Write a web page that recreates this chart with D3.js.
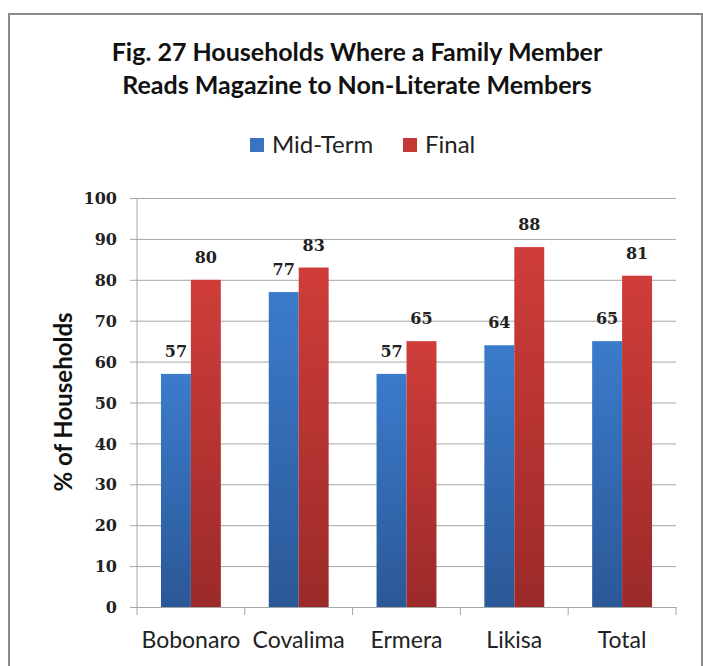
<!DOCTYPE html>
<head>
  <meta charset="utf-8">
  <script src="https://d3js.org/d3.v7.min.js"></script>
  <style>
  body,html {margin:0; background:#fff;}
  .tick text {font-family:"DejaVu Serif",serif; font-weight:bold; font-size:16px; fill:#222;}
  </style>
</head>
<body>
<script>
// data
const districts = ["Bobonaro", "Covalima", "Ermera", "Likisa", "Total"];
const seriesNames = ["Mid-Term", "Final"];
const midTerm = [57, 77, 57, 64, 65];
const finalVals = [80, 83, 65, 88, 81];
const yTicks = [0, 10, 20, 30, 40, 50, 60, 70, 80, 90, 100];

const W = 703, H = 666;
const svg = d3.select("body").append("svg").attr("width", W).attr("height", H);

// gradients for the bars
const defs = svg.append("defs");
function grad(id, top, bottom) {
  const g = defs.append("linearGradient").attr("id", id)
    .attr("x1", 0).attr("y1", 0).attr("x2", 0).attr("y2", 1);
  g.append("stop").attr("offset", "0%").attr("stop-color", top);
  g.append("stop").attr("offset", "100%").attr("stop-color", bottom);
}
grad("gBlue", "#3b7bcb", "#2b5897");
grad("gRed", "#cf3d3a", "#9b2a29");
const fills = ["url(#gBlue)", "url(#gRed)"];
const swatch = ["#3a74c0", "#c63836"];

// frame
svg.append("path").attr("d", "M9,680 V14 H702 V680")
  .attr("fill", "none").attr("stroke", "#8a8a8a").attr("stroke-width", 2);

// title
const title = svg.append("text").attr("text-anchor", "middle")
  .style("font-family", "Lato, sans-serif").style("font-weight", "bold")
  .style("font-size", "25px").attr("fill", "#111");
title.append("tspan").attr("x", 357).attr("y", 61).text("Fig. 27 Households Where a Family Member");
title.append("tspan").attr("x", 357).attr("y", 94).text("Reads Magazine to Non-Literate Members");

// legend
const legend = svg.append("g").style("font-family", "Lato, sans-serif").style("font-size", "24px");
const legX = [250, 403];
seriesNames.forEach((s, i) => {
  legend.append("rect").attr("x", legX[i]).attr("y", 138).attr("width", 14).attr("height", 14)
    .attr("fill", swatch[i]);
  legend.append("text").attr("x", legX[i] + 22).attr("y", 153).attr("fill", "#222").text(s);
});

// scales
const x = d3.scaleBand().domain(districts).range([137, 676]);
const xs = d3.scaleBand().domain(seriesNames).range([0, x.bandwidth()]).paddingOuter(0.8).paddingInner(0);
const y = d3.scaleLinear().domain([0, 100]).range([607, 198]);

// grid + y axis
svg.append("g").attr("transform", "translate(137,0)")
  .call(d3.axisLeft(y).tickValues(yTicks).tickSize(-539).tickSizeOuter(0).tickPadding(20))
  .call(g => g.select(".domain").remove())
  .call(g => g.selectAll(".tick line").attr("stroke", "#a6a6a6").attr("x1", -7))
  .call(g => g.selectAll(".tick text").attr("dy", "0.35em"));

svg.append("line").attr("x1", 137).attr("x2", 137).attr("y1", 198).attr("y2", 607)
  .attr("stroke", "#a6a6a6");

// x axis
const xAxis = svg.append("g").attr("transform", "translate(0,607)")
  .call(d3.axisBottom(x).tickSize(0).tickSizeOuter(0).tickPadding(25));
xAxis.select(".domain").attr("stroke", "#a6a6a6");
xAxis.selectAll(".tick text").style("font-family", "Lato, sans-serif")
  .style("font-weight", "normal").style("font-size", "23px").attr("fill", "#222");
const boundaries = districts.map(d => x(d)).concat([x.range()[1]]);
xAxis.selectAll(".bnd").data(boundaries).enter().append("line")
  .attr("x1", d => d).attr("x2", d => d).attr("y1", 0).attr("y2", 8).attr("stroke", "#a6a6a6");

// bars
const rows = districts.map((d, i) => ({district: d, vals: [midTerm[i], finalVals[i]]}));
const groups = svg.selectAll(".grp").data(rows).enter().append("g")
  .attr("transform", d => `translate(${x(d.district)},0)`);
groups.selectAll("rect").data(d => d.vals.map((v, i) => ({v, s: seriesNames[i], i})))
  .enter().append("rect")
  .attr("x", d => xs(d.s)).attr("width", xs.bandwidth())
  .attr("y", d => y(d.v)).attr("height", d => y(0) - y(d.v))
  .attr("fill", d => fills[d.i]);
groups.selectAll(".lbl").data(d => d.vals.map((v, i) => ({v, s: seriesNames[i]})))
  .enter().append("text")
  .attr("x", d => xs(d.s) + xs.bandwidth() / 2).attr("y", d => y(d.v) - 17)
  .attr("text-anchor", "middle")
  .style("font-family", "DejaVu Serif, serif").style("font-weight", "bold").style("font-size", "16px")
  .attr("fill", "#222").text(d => d.v);

// y label
svg.append("text").attr("transform", "translate(72,402) rotate(-90)")
  .attr("text-anchor", "middle").style("font-family", "Lato, sans-serif")
  .style("font-weight", "bold").style("font-size", "24px").attr("fill", "#111")
  .text("% of Households");
</script>
</body>
